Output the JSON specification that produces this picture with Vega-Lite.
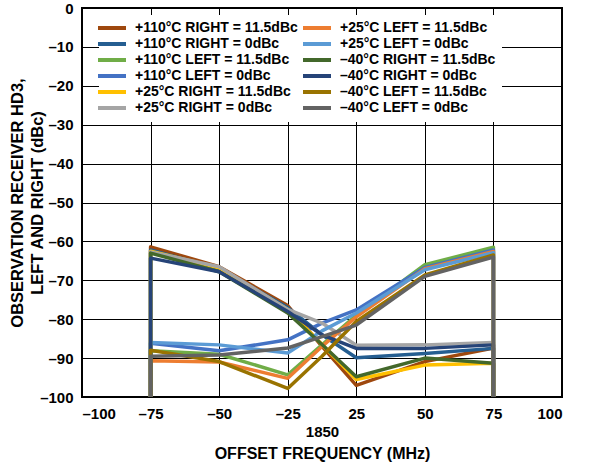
{
  "$schema": "https://vega.github.io/schema/vega-lite/v6.json",
  "width": 480,
  "height": 389,
  "autosize": {"type": "none"},
  "padding": {"left": 82, "top": 8, "right": 35, "bottom": 68},
  "background": "white",
  "config": {
    "font": "Liberation Sans",
    "view": {"stroke": "black", "strokeWidth": 2},
    "axis": {"gridColor": "black", "gridOpacity": 1, "gridWidth": 1, "domain": false, "ticks": false,
             "labelFont": "Liberation Sans", "labelFontWeight": "bold", "labelFontSize": 15, "labelColor": "black",
             "titleFont": "Liberation Sans", "titleFontWeight": "bold", "titleFontSize": 16.5, "titleColor": "black"}
  },
  "data": {"values": [
    {"s":"+110°C RIGHT = 11.5dBc","i":0,"x":-75,"y":-100},{"s":"+110°C RIGHT = 11.5dBc","i":1,"x":-75,"y":-61.4},{"s":"+110°C RIGHT = 11.5dBc","i":2,"x":-50,"y":-66.5},{"s":"+110°C RIGHT = 11.5dBc","i":3,"x":-25,"y":-76.5},{"s":"+110°C RIGHT = 11.5dBc","i":4,"x":0,"y":-87},{"s":"+110°C RIGHT = 11.5dBc","i":5,"x":25,"y":-97},{"s":"+110°C RIGHT = 11.5dBc","i":6,"x":50,"y":-90.9},{"s":"+110°C RIGHT = 11.5dBc","i":7,"x":75,"y":-87.4},{"s":"+110°C RIGHT = 11.5dBc","i":8,"x":75,"y":-100},
    {"s":"+110°C RIGHT = 0dBc","i":0,"x":-75,"y":-100},{"s":"+110°C RIGHT = 0dBc","i":1,"x":-75,"y":-62.2},{"s":"+110°C RIGHT = 0dBc","i":2,"x":-50,"y":-67},{"s":"+110°C RIGHT = 0dBc","i":3,"x":-25,"y":-77},{"s":"+110°C RIGHT = 0dBc","i":4,"x":0,"y":-84},{"s":"+110°C RIGHT = 0dBc","i":5,"x":25,"y":-89.9},{"s":"+110°C RIGHT = 0dBc","i":6,"x":50,"y":-88.8},{"s":"+110°C RIGHT = 0dBc","i":7,"x":75,"y":-87.5},{"s":"+110°C RIGHT = 0dBc","i":8,"x":75,"y":-100},
    {"s":"+110°C LEFT = 11.5dBc","i":0,"x":-75,"y":-100},{"s":"+110°C LEFT = 11.5dBc","i":1,"x":-75,"y":-88.1},{"s":"+110°C LEFT = 11.5dBc","i":2,"x":-50,"y":-89},{"s":"+110°C LEFT = 11.5dBc","i":3,"x":-25,"y":-94.3},{"s":"+110°C LEFT = 11.5dBc","i":4,"x":0,"y":-86.6},{"s":"+110°C LEFT = 11.5dBc","i":5,"x":25,"y":-79},{"s":"+110°C LEFT = 11.5dBc","i":6,"x":50,"y":-66},{"s":"+110°C LEFT = 11.5dBc","i":7,"x":75,"y":-61.5},{"s":"+110°C LEFT = 11.5dBc","i":8,"x":75,"y":-100},
    {"s":"+110°C LEFT = 0dBc","i":0,"x":-75,"y":-100},{"s":"+110°C LEFT = 0dBc","i":1,"x":-75,"y":-86.2},{"s":"+110°C LEFT = 0dBc","i":2,"x":-50,"y":-88.1},{"s":"+110°C LEFT = 0dBc","i":3,"x":-25,"y":-85.3},{"s":"+110°C LEFT = 0dBc","i":4,"x":0,"y":-81},{"s":"+110°C LEFT = 0dBc","i":5,"x":25,"y":-77.6},{"s":"+110°C LEFT = 0dBc","i":6,"x":50,"y":-66.7},{"s":"+110°C LEFT = 0dBc","i":7,"x":75,"y":-62.2},{"s":"+110°C LEFT = 0dBc","i":8,"x":75,"y":-100},
    {"s":"+25°C RIGHT = 11.5dBc","i":0,"x":-75,"y":-100},{"s":"+25°C RIGHT = 11.5dBc","i":1,"x":-75,"y":-62.5},{"s":"+25°C RIGHT = 11.5dBc","i":2,"x":-50,"y":-66.8},{"s":"+25°C RIGHT = 11.5dBc","i":3,"x":-25,"y":-77.5},{"s":"+25°C RIGHT = 11.5dBc","i":4,"x":0,"y":-86.5},{"s":"+25°C RIGHT = 11.5dBc","i":5,"x":25,"y":-95.5},{"s":"+25°C RIGHT = 11.5dBc","i":6,"x":50,"y":-91.8},{"s":"+25°C RIGHT = 11.5dBc","i":7,"x":75,"y":-91.3},{"s":"+25°C RIGHT = 11.5dBc","i":8,"x":75,"y":-100},
    {"s":"+25°C RIGHT = 0dBc","i":0,"x":-75,"y":-100},{"s":"+25°C RIGHT = 0dBc","i":1,"x":-75,"y":-62.7},{"s":"+25°C RIGHT = 0dBc","i":2,"x":-50,"y":-66.5},{"s":"+25°C RIGHT = 0dBc","i":3,"x":-25,"y":-77.5},{"s":"+25°C RIGHT = 0dBc","i":4,"x":0,"y":-81},{"s":"+25°C RIGHT = 0dBc","i":5,"x":25,"y":-86.7},{"s":"+25°C RIGHT = 0dBc","i":6,"x":50,"y":-86.6},{"s":"+25°C RIGHT = 0dBc","i":7,"x":75,"y":-86},{"s":"+25°C RIGHT = 0dBc","i":8,"x":75,"y":-100},
    {"s":"+25°C LEFT = 11.5dBc","i":0,"x":-75,"y":-100},{"s":"+25°C LEFT = 11.5dBc","i":1,"x":-75,"y":-90.7},{"s":"+25°C LEFT = 11.5dBc","i":2,"x":-50,"y":-91},{"s":"+25°C LEFT = 11.5dBc","i":3,"x":-25,"y":-95.2},{"s":"+25°C LEFT = 11.5dBc","i":4,"x":0,"y":-87},{"s":"+25°C LEFT = 11.5dBc","i":5,"x":25,"y":-79.4},{"s":"+25°C LEFT = 11.5dBc","i":6,"x":50,"y":-67},{"s":"+25°C LEFT = 11.5dBc","i":7,"x":75,"y":-62.6},{"s":"+25°C LEFT = 11.5dBc","i":8,"x":75,"y":-100},
    {"s":"+25°C LEFT = 0dBc","i":0,"x":-75,"y":-100},{"s":"+25°C LEFT = 0dBc","i":1,"x":-75,"y":-86},{"s":"+25°C LEFT = 0dBc","i":2,"x":-50,"y":-86.6},{"s":"+25°C LEFT = 0dBc","i":3,"x":-25,"y":-88.7},{"s":"+25°C LEFT = 0dBc","i":4,"x":0,"y":-83},{"s":"+25°C LEFT = 0dBc","i":5,"x":25,"y":-78.4},{"s":"+25°C LEFT = 0dBc","i":6,"x":50,"y":-67.3},{"s":"+25°C LEFT = 0dBc","i":7,"x":75,"y":-62.9},{"s":"+25°C LEFT = 0dBc","i":8,"x":75,"y":-100},
    {"s":"–40°C RIGHT = 11.5dBc","i":0,"x":-75,"y":-100},{"s":"–40°C RIGHT = 11.5dBc","i":1,"x":-75,"y":-63},{"s":"–40°C RIGHT = 11.5dBc","i":2,"x":-50,"y":-67.8},{"s":"–40°C RIGHT = 11.5dBc","i":3,"x":-25,"y":-78.4},{"s":"–40°C RIGHT = 11.5dBc","i":4,"x":0,"y":-86.5},{"s":"–40°C RIGHT = 11.5dBc","i":5,"x":25,"y":-94.8},{"s":"–40°C RIGHT = 11.5dBc","i":6,"x":50,"y":-90},{"s":"–40°C RIGHT = 11.5dBc","i":7,"x":75,"y":-91.3},{"s":"–40°C RIGHT = 11.5dBc","i":8,"x":75,"y":-100},
    {"s":"–40°C RIGHT = 0dBc","i":0,"x":-75,"y":-100},{"s":"–40°C RIGHT = 0dBc","i":1,"x":-75,"y":-64.3},{"s":"–40°C RIGHT = 0dBc","i":2,"x":-50,"y":-67.8},{"s":"–40°C RIGHT = 0dBc","i":3,"x":-25,"y":-78},{"s":"–40°C RIGHT = 0dBc","i":4,"x":0,"y":-84},{"s":"–40°C RIGHT = 0dBc","i":5,"x":25,"y":-87.5},{"s":"–40°C RIGHT = 0dBc","i":6,"x":50,"y":-87.5},{"s":"–40°C RIGHT = 0dBc","i":7,"x":75,"y":-86.6},{"s":"–40°C RIGHT = 0dBc","i":8,"x":75,"y":-100},
    {"s":"–40°C LEFT = 11.5dBc","i":0,"x":-75,"y":-100},{"s":"–40°C LEFT = 11.5dBc","i":1,"x":-75,"y":-88},{"s":"–40°C LEFT = 11.5dBc","i":2,"x":-50,"y":-90.9},{"s":"–40°C LEFT = 11.5dBc","i":3,"x":-25,"y":-97.8},{"s":"–40°C LEFT = 11.5dBc","i":4,"x":0,"y":-89.5},{"s":"–40°C LEFT = 11.5dBc","i":5,"x":25,"y":-80.6},{"s":"–40°C LEFT = 11.5dBc","i":6,"x":50,"y":-68.6},{"s":"–40°C LEFT = 11.5dBc","i":7,"x":75,"y":-63.5},{"s":"–40°C LEFT = 11.5dBc","i":8,"x":75,"y":-100},
    {"s":"–40°C LEFT = 0dBc","i":0,"x":-75,"y":-100},{"s":"–40°C LEFT = 0dBc","i":1,"x":-75,"y":-89.5},{"s":"–40°C LEFT = 0dBc","i":2,"x":-50,"y":-89.2},{"s":"–40°C LEFT = 0dBc","i":3,"x":-25,"y":-87.4},{"s":"–40°C LEFT = 0dBc","i":4,"x":0,"y":-84.5},{"s":"–40°C LEFT = 0dBc","i":5,"x":25,"y":-81.5},{"s":"–40°C LEFT = 0dBc","i":6,"x":50,"y":-69},{"s":"–40°C LEFT = 0dBc","i":7,"x":75,"y":-64},{"s":"–40°C LEFT = 0dBc","i":8,"x":75,"y":-100}
  ]},
  "mark": {"type": "line", "strokeWidth": 3.5, "strokeJoin": "round", "clip": true},
  "encoding": {
    "x": {"field": "x", "type": "quantitative",
          "scale": {"domain": [-100, -25, 25, 100], "range": [0, 205.714, 274.286, 480], "nice": false, "zero": false},
          "axis": {"values": [-100, -75, -50, -25, 0, 25, 50, 75, 100],
                   "labelExpr": "datum.value == 0 ? ['', '1850'] : (datum.value < 0 ? '–' + abs(datum.value) : '' + datum.value)",
                   "labelOverlap": false, "labelPadding": 9, "labelLineHeight": 18,
                   "gridOpacity": {"condition": {"test": "datum.value == 0", "value": 0}, "value": 1},
                   "title": "OFFSET FREQUENCY (MHz)", "titleFontSize": 16, "titlePadding": 6}},
    "y": {"field": "y", "type": "quantitative",
          "scale": {"domain": [-100, 0], "nice": false},
          "axis": {"values": [-100, -90, -80, -70, -60, -50, -40, -30, -20, -10, 0],
                   "labelExpr": "datum.value == 0 ? '0' : '–' + abs(datum.value)",
                   "labelPadding": 9,
                   "title": ["OBSERVATION RECEIVER HD3,", "LEFT AND RIGHT (dBc)"], "titleLineHeight": 20, "titlePadding": -6}},
    "color": {"field": "s", "type": "nominal",
              "scale": {"domain": ["+110°C RIGHT = 11.5dBc", "+110°C RIGHT = 0dBc", "+110°C LEFT = 11.5dBc", "+110°C LEFT = 0dBc", "+25°C RIGHT = 11.5dBc", "+25°C RIGHT = 0dBc", "+25°C LEFT = 11.5dBc", "+25°C LEFT = 0dBc", "–40°C RIGHT = 11.5dBc", "–40°C RIGHT = 0dBc", "–40°C LEFT = 11.5dBc", "–40°C LEFT = 0dBc"],
                        "range": ["#9E480E", "#255E91", "#70AD47", "#4472C4", "#FFC000", "#A5A5A5", "#ED7D31", "#5B9BD5", "#43682B", "#264478", "#997300", "#636363"]},
              "legend": {"title": null, "orient": "none", "legendX": 17, "legendY": 7, "columns": 2, "columnPadding": -3, "rowPadding": 0,
                         "fillColor": "white", "padding": 6, "symbolType": "M-2.8,0H2.8", "symbolStrokeWidth": 4, "symbolSize": 100,
                         "labelFont": "Liberation Sans", "labelFontWeight": "bold", "labelFontSize": 14, "labelColor": "black", "labelLimit": 300, "labelOffset": 16}},
    "order": {"field": "i", "type": "quantitative"}
  }
}
